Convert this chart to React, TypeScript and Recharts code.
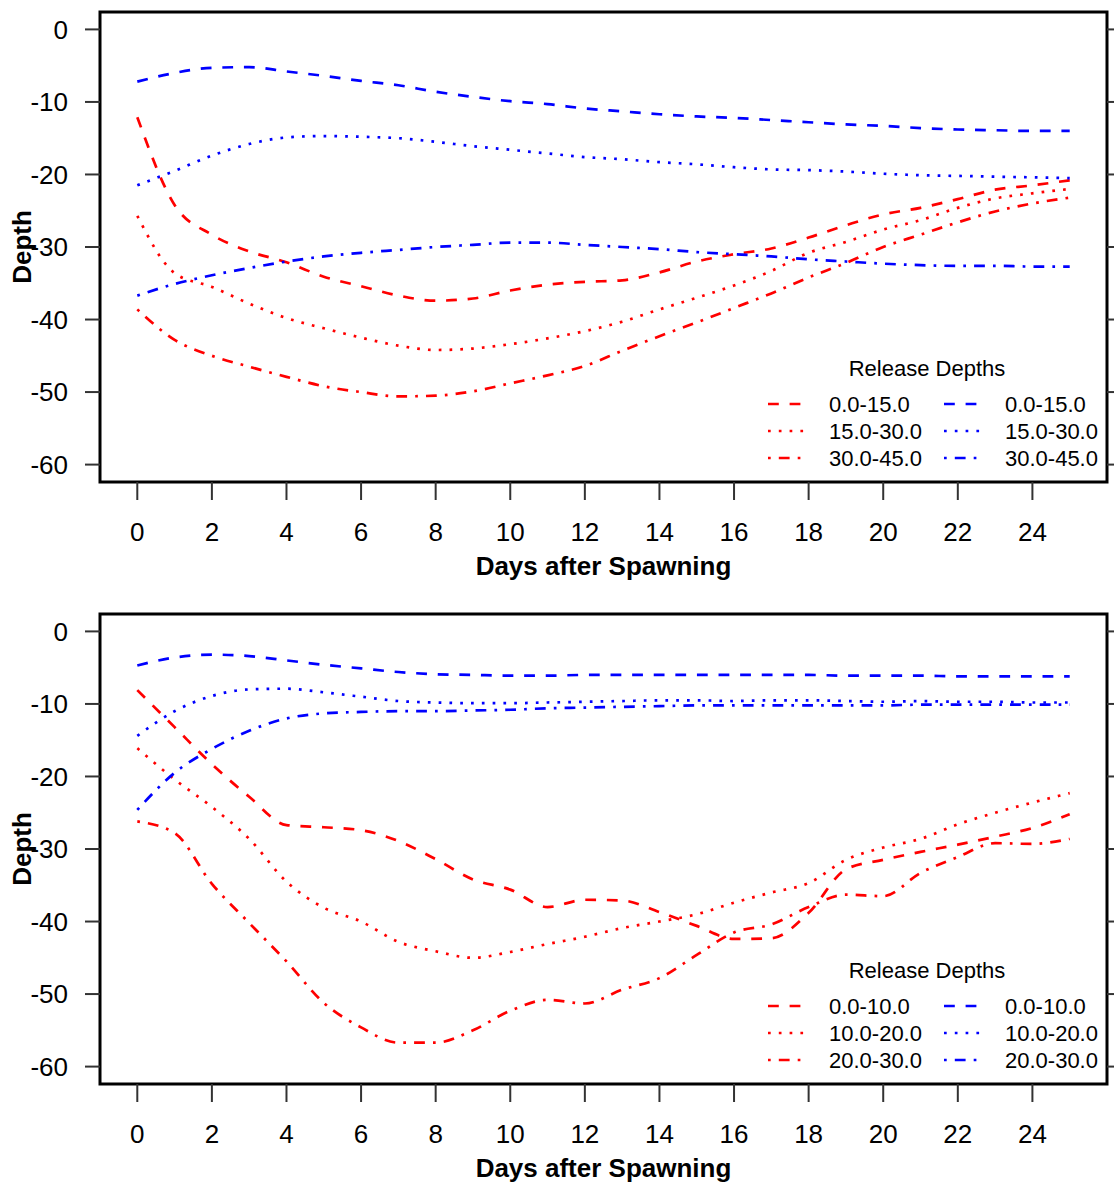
import React from 'react';
import { LineChart, Line, XAxis, YAxis, ReferenceArea, Legend, Label } from 'recharts';

const FONT = '"Liberation Sans", Arial, Helvetica, sans-serif';
const RED = '#FF0000';
const BLUE = '#0000FF';
const LW = 2.7;
const DASHES = ['10.8 10.8', '2.7 8.1', '2.7 8.1 10.8 8.1'];

const DAYS = [0, 1, 2, 3, 4, 5, 6, 7, 8, 9, 10, 11, 12, 13, 14, 15, 16, 17, 18, 19, 20, 21, 22, 23, 24, 25];
const X_TICKS = [0, 2, 4, 6, 8, 10, 12, 14, 16, 18, 20, 22, 24];
const Y_TICKS = [-60, -50, -40, -30, -20, -10, 0];
const Y_DOMAIN = [-62.4, 2.4];
const X_DOMAIN = [-1, 26];

const TOP_LABELS = ['0.0-15.0', '15.0-30.0', '30.0-45.0'];
const BOTTOM_LABELS = ['0.0-10.0', '10.0-20.0', '20.0-30.0'];

// Top panel
const TOP_RED_DASH = [-12.1, -24.2, -28.3, -30.6, -32.1, -34.1, -35.4, -36.7, -37.4, -37.1, -36.0, -35.2, -34.8, -34.6, -33.5, -32.0, -31.0, -30.2, -28.7, -27.0, -25.5, -24.6, -23.4, -22.1, -21.5, -20.8];
const TOP_RED_DOT = [-25.7, -33.6, -35.5, -37.8, -39.8, -41.2, -42.5, -43.6, -44.2, -44.0, -43.4, -42.6, -41.6, -40.3, -38.6, -37.0, -35.3, -33.3, -30.8, -29.3, -27.6, -26.3, -24.6, -23.3, -22.6, -22.0];
const TOP_RED_DOTDASH = [-38.6, -42.8, -45.0, -46.5, -47.9, -49.2, -50.0, -50.6, -50.5, -49.9, -48.8, -47.7, -46.4, -44.3, -42.3, -40.4, -38.4, -36.4, -34.2, -32.2, -30.0, -28.3, -26.6, -25.1, -24.0, -23.2];
const TOP_BLUE_DASH = [-7.2, -6.0, -5.3, -5.2, -5.8, -6.4, -7.1, -7.7, -8.6, -9.3, -9.9, -10.3, -10.9, -11.3, -11.7, -12.0, -12.2, -12.5, -12.8, -13.1, -13.3, -13.6, -13.8, -13.9, -14.0, -14.0];
const TOP_BLUE_DOT = [-21.5, -19.5, -17.4, -15.8, -14.9, -14.7, -14.8, -15.0, -15.5, -16.1, -16.6, -17.1, -17.6, -17.9, -18.3, -18.6, -19.0, -19.3, -19.4, -19.6, -19.9, -20.1, -20.2, -20.3, -20.4, -20.5];
const TOP_BLUE_DOTDASH = [-36.7, -35.1, -33.9, -32.9, -32.0, -31.3, -30.8, -30.4, -30.0, -29.7, -29.4, -29.4, -29.7, -30.0, -30.3, -30.7, -31.0, -31.3, -31.7, -32.0, -32.3, -32.5, -32.6, -32.6, -32.7, -32.7];

// Bottom panel
const BOT_RED_DASH = [-8.1, -13.2, -18.3, -22.8, -26.7, -27.0, -27.4, -28.9, -31.4, -34.2, -35.6, -38.0, -37.0, -37.1, -38.7, -40.6, -42.4, -42.3, -38.8, -32.8, -31.5, -30.4, -29.4, -28.3, -27.1, -25.2];
const BOT_RED_DOT = [-16.1, -20.4, -24.2, -28.6, -34.5, -38.1, -40.0, -42.8, -44.1, -45.0, -44.2, -43.1, -42.1, -40.9, -40.0, -39.0, -37.4, -36.0, -34.7, -31.5, -29.8, -28.6, -26.6, -25.0, -23.6, -22.3];
const BOT_RED_DOTDASH = [-26.2, -27.8, -34.8, -40.2, -45.5, -51.2, -54.6, -56.7, -56.7, -55.0, -52.3, -50.8, -51.3, -49.4, -47.8, -44.6, -41.5, -40.4, -38.0, -36.3, -36.5, -33.3, -31.1, -29.2, -29.3, -28.6];
const BOT_BLUE_DASH = [-4.7, -3.6, -3.2, -3.4, -4.0, -4.6, -5.1, -5.6, -5.9, -6.0, -6.1, -6.1, -6.0, -6.0, -6.0, -6.0, -6.0, -6.0, -6.0, -6.1, -6.1, -6.1, -6.2, -6.2, -6.2, -6.2];
const BOT_BLUE_DOT = [-14.4, -11.0, -8.9, -8.0, -7.9, -8.4, -9.0, -9.6, -9.8, -9.9, -9.9, -9.8, -9.7, -9.6, -9.5, -9.5, -9.6, -9.5, -9.5, -9.6, -9.7, -9.6, -9.7, -9.7, -9.8, -9.8];
const BOT_BLUE_DOTDASH = [-24.6, -19.5, -16.2, -13.7, -12.0, -11.3, -11.1, -11.0, -11.0, -10.9, -10.8, -10.6, -10.5, -10.4, -10.3, -10.2, -10.2, -10.2, -10.2, -10.2, -10.2, -10.1, -10.1, -10.1, -10.1, -10.1];

const buildData = (r1: number[], r2: number[], r3: number[], b1: number[], b2: number[], b3: number[]) =>
  DAYS.map((d, i) => ({ day: d, r1: r1[i], r2: r2[i], r3: r3[i], b1: b1[i], b2: b2[i], b3: b3[i] }));

const TOP_DATA = buildData(TOP_RED_DASH, TOP_RED_DOT, TOP_RED_DOTDASH, TOP_BLUE_DASH, TOP_BLUE_DOT, TOP_BLUE_DOTDASH);
const BOT_DATA = buildData(BOT_RED_DASH, BOT_RED_DOT, BOT_RED_DOTDASH, BOT_BLUE_DASH, BOT_BLUE_DOT, BOT_BLUE_DOTDASH);

function PanelLegend({ labels }: { labels: string[] }) {
  return (
    <svg width={354} height={125} style={{ display: 'block', overflow: 'visible' }}>
      <text x={167} y={16} textAnchor="middle" dominantBaseline="central" fontSize={22} fontFamily={FONT} fill="#000">
        Release Depths
      </text>
      {labels.map((lab, i) => {
        const y = 52 + i * 27;
        return (
          <g key={i}>
            <line x1={8} x2={44} y1={y} y2={y} stroke={RED} strokeWidth={LW} strokeDasharray={DASHES[i]} />
            <text x={69} y={y} dominantBaseline="central" fontSize={22} fontFamily={FONT} fill="#000">{lab}</text>
            <line x1={184} x2={220} y1={y} y2={y} stroke={BLUE} strokeWidth={LW} strokeDasharray={DASHES[i]} />
            <text x={245} y={y} dominantBaseline="central" fontSize={22} fontFamily={FONT} fill="#000">{lab}</text>
          </g>
        );
      })}
    </svg>
  );
}

const XTitle = (props: any) => {
  const vb = props.viewBox || { x: 100, y: 482, width: 1007, height: 120 };
  return (
    <text x={vb.x + vb.width / 2} y={vb.y + 84} textAnchor="middle" dominantBaseline="central"
      fontSize={26} fontWeight="bold" fontFamily={FONT} fill="#000">
      Days after Spawning
    </text>
  );
};

const YTitle = (props: any) => {
  const vb = props.viewBox || { x: 0, y: 12, width: 100, height: 470 };
  const cx = vb.x + 22;
  const cy = vb.y + vb.height / 2;
  return (
    <text x={cx} y={cy} transform={`rotate(-90, ${cx}, ${cy})`} textAnchor="middle" dominantBaseline="central"
      fontSize={26} fontWeight="bold" fontFamily={FONT} fill="#000">
      Depth
    </text>
  );
};

const SERIES = [
  { key: 'r1', color: RED, dash: DASHES[0] },
  { key: 'r2', color: RED, dash: DASHES[1] },
  { key: 'r3', color: RED, dash: DASHES[2] },
  { key: 'b1', color: BLUE, dash: DASHES[0] },
  { key: 'b2', color: BLUE, dash: DASHES[1] },
  { key: 'b3', color: BLUE, dash: DASHES[2] },
];

function Panel({ data, labels, height }: { data: any[]; labels: string[]; height: number }) {
  const tickLine = { stroke: '#333', strokeWidth: 2 };
  const tickStyle = { fontSize: 26, fill: '#000', fontFamily: FONT };
  return (
    <LineChart width={1114} height={height} data={data} margin={{ top: 12, right: 0, bottom: 0, left: 0 }}
      style={{ fontFamily: FONT }}>
      <XAxis dataKey="day" type="number" domain={X_DOMAIN} ticks={X_TICKS} interval={0} allowDataOverflow
        axisLine={false} tickSize={18} tickMargin={23} tickLine={tickLine} tick={tickStyle} height={height - 482}>
        <Label content={XTitle} />
      </XAxis>
      <YAxis yAxisId="left" type="number" domain={Y_DOMAIN} ticks={Y_TICKS} interval={0} allowDataOverflow
        width={100} axisLine={false} tickSize={15} tickMargin={17} tickLine={tickLine} tick={tickStyle}>
        <Label content={YTitle} />
      </YAxis>
      <YAxis yAxisId="right" orientation="right" type="number" domain={Y_DOMAIN} ticks={Y_TICKS} interval={0}
        allowDataOverflow width={7} axisLine={false} tickSize={15} tickLine={tickLine} tick={tickStyle}
        tickFormatter={() => ''} />
      {SERIES.map((s) => (
        <Line key={s.key} yAxisId="left" type="monotone" dataKey={s.key} stroke={s.color} strokeWidth={LW}
          strokeDasharray={s.dash} dot={false} activeDot={false} isAnimationActive={false} />
      ))}
      <ReferenceArea yAxisId="left" x1={X_DOMAIN[0]} x2={X_DOMAIN[1]} y1={Y_DOMAIN[0]} y2={Y_DOMAIN[1]}
        fill="none" fillOpacity={0} stroke="#000" strokeWidth={3} />
      <Legend layout="vertical" align="center" verticalAlign="middle"
        wrapperStyle={{ left: 760, top: 352, width: 354, height: 125 }}
        content={() => <PanelLegend labels={labels} />} />
    </LineChart>
  );
}

export default function App() {
  return (
    <div style={{ position: 'absolute', left: 0, top: 0, width: 1114, height: 1182, background: '#fff', overflow: 'hidden' }}>
      <div style={{ position: 'absolute', left: 0, top: 0 }}>
        <Panel data={TOP_DATA} labels={TOP_LABELS} height={602} />
      </div>
      <div style={{ position: 'absolute', left: 0, top: 602 }}>
        <Panel data={BOT_DATA} labels={BOTTOM_LABELS} height={580} />
      </div>
    </div>
  );
}
